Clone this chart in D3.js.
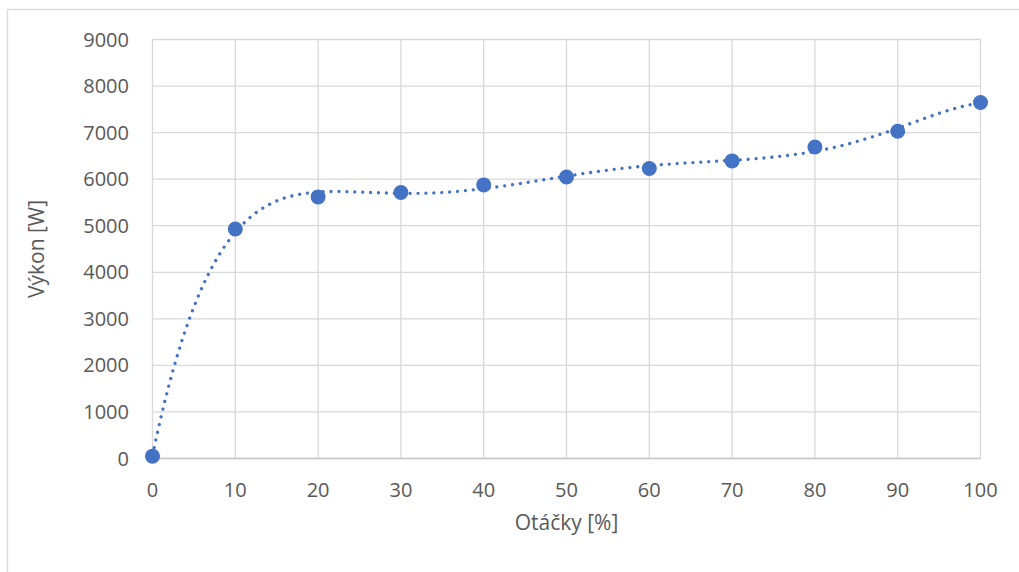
<!DOCTYPE html>
<html>
<head>
<meta charset="utf-8">
<script src="https://cdn.jsdelivr.net/npm/d3@7"></script>
<style>
  html, body { margin: 0; padding: 0; background: #fff; }
  svg { display: block; }
  text { font-family: "Open Sans", "Noto Sans", sans-serif; fill: #595959; }
</style>
</head>
<body>
<svg id="chart" width="1019" height="572"></svg>
<script>
// Engine speed (% of max) and measured power output (W)
const otacky = [0, 10, 20, 30, 40, 50, 60, 70, 80, 90, 100];
const vykon  = [50, 4930, 5619, 5713, 5877, 6048, 6228, 6392, 6692, 7030, 7646];

const xTicks = [0, 10, 20, 30, 40, 50, 60, 70, 80, 90, 100];
const yTicks = [0, 1000, 2000, 3000, 4000, 5000, 6000, 7000, 8000, 9000];

const xTitle = "Otáčky [%]";
const yTitle = "Výkon [W]";

// order of the polynomial trendline
const trendOrder = 6;

const W = 1019, H = 572;
const plot = { left: 152.5, right: 980.5, top: 39.5, bottom: 458.5 };
const blue = "#4472C4";
const grid = "#d9d9d9";

const svg = d3.select("#chart");

// chart frame
svg.append("rect")
  .attr("x", 7.5).attr("y", 9.5)
  .attr("width", W + 20).attr("height", H + 20)
  .attr("fill", "none").attr("stroke", grid).attr("stroke-width", 1.3);

const x = d3.scaleLinear().domain([0, 100]).range([plot.left, plot.right]);
const y = d3.scaleLinear().domain([0, 9000]).range([plot.bottom, plot.top]);

// gridlines
svg.append("g").selectAll("line.h").data(yTicks).join("line")
  .attr("x1", plot.left).attr("x2", plot.right)
  .attr("y1", d => y(d)).attr("y2", d => y(d))
  .attr("stroke", grid).attr("stroke-width", 1.3);

svg.append("g").selectAll("line.v").data(xTicks).join("line")
  .attr("x1", d => x(d)).attr("x2", d => x(d))
  .attr("y1", plot.top).attr("y2", plot.bottom)
  .attr("stroke", grid).attr("stroke-width", 1.3);

// axis line
svg.append("line")
  .attr("x1", plot.left).attr("x2", plot.right)
  .attr("y1", plot.bottom).attr("y2", plot.bottom)
  .attr("stroke", "#c8c8c8").attr("stroke-width", 1.3);

// y tick labels
svg.append("g").selectAll("text").data(yTicks).join("text")
  .attr("x", 129).attr("y", d => y(d))
  .attr("dy", "0.35em")
  .attr("text-anchor", "end")
  .attr("font-size", 20)
  .text(d => d);

// x tick labels
svg.append("g").selectAll("text").data(xTicks).join("text")
  .attr("x", d => x(d)).attr("y", 490)
  .attr("dy", "0.35em")
  .attr("text-anchor", "middle")
  .attr("font-size", 20)
  .text(d => d);

// axis titles
svg.append("text")
  .attr("x", (plot.left + plot.right) / 2).attr("y", 530)
  .attr("text-anchor", "middle")
  .attr("font-size", 21)
  .text(xTitle);

svg.append("text")
  .attr("transform", `translate(44,${(plot.top + plot.bottom) / 2}) rotate(-90)`)
  .attr("text-anchor", "middle")
  .attr("font-size", 21)
  .text(yTitle);

// least-squares polynomial fit (x normalised to 0..1 for stability)
function polyFit(xs, ys, order) {
  const n = order + 1;
  const A = Array.from({ length: n }, () => new Array(n + 1).fill(0));
  xs.forEach((xv, k) => {
    const t = xv / 100;
    const pw = [];
    for (let i = 0; i < 2 * n; i++) pw.push(Math.pow(t, i));
    for (let i = 0; i < n; i++) {
      for (let j = 0; j < n; j++) A[i][j] += pw[i + j];
      A[i][n] += pw[i] * ys[k];
    }
  });
  // Gaussian elimination with partial pivoting
  for (let c = 0; c < n; c++) {
    let p = c;
    for (let r = c + 1; r < n; r++) if (Math.abs(A[r][c]) > Math.abs(A[p][c])) p = r;
    [A[c], A[p]] = [A[p], A[c]];
    for (let r = 0; r < n; r++) {
      if (r === c) continue;
      const f = A[r][c] / A[c][c];
      for (let j = c; j <= n; j++) A[r][j] -= f * A[c][j];
    }
  }
  const coef = A.map((row, i) => row[n] / row[i]);
  return xv => {
    const t = xv / 100;
    let s = 0;
    for (let i = n - 1; i >= 0; i--) s = s * t + coef[i];
    return s;
  };
}

const trend = polyFit(otacky, vykon, trendOrder);
const trendPts = d3.range(0, 100.001, 0.5).map(v => [v, trend(v)]);

const line = d3.line()
  .x(d => x(d[0])).y(d => y(d[1]));

// dotted trendline
svg.append("path")
  .datum(trendPts)
  .attr("d", line)
  .attr("fill", "none")
  .attr("stroke", blue)
  .attr("stroke-width", 3.3)
  .attr("stroke-linecap", "round")
  .attr("stroke-dasharray", "0.01 7.9");

// data markers
const pts = otacky.map((v, i) => [v, vykon[i]]);
svg.append("g").selectAll("circle").data(pts).join("circle")
  .attr("cx", d => x(d[0])).attr("cy", d => y(d[1]))
  .attr("r", 7.5)
  .attr("fill", blue);
</script>
</body>
</html>
